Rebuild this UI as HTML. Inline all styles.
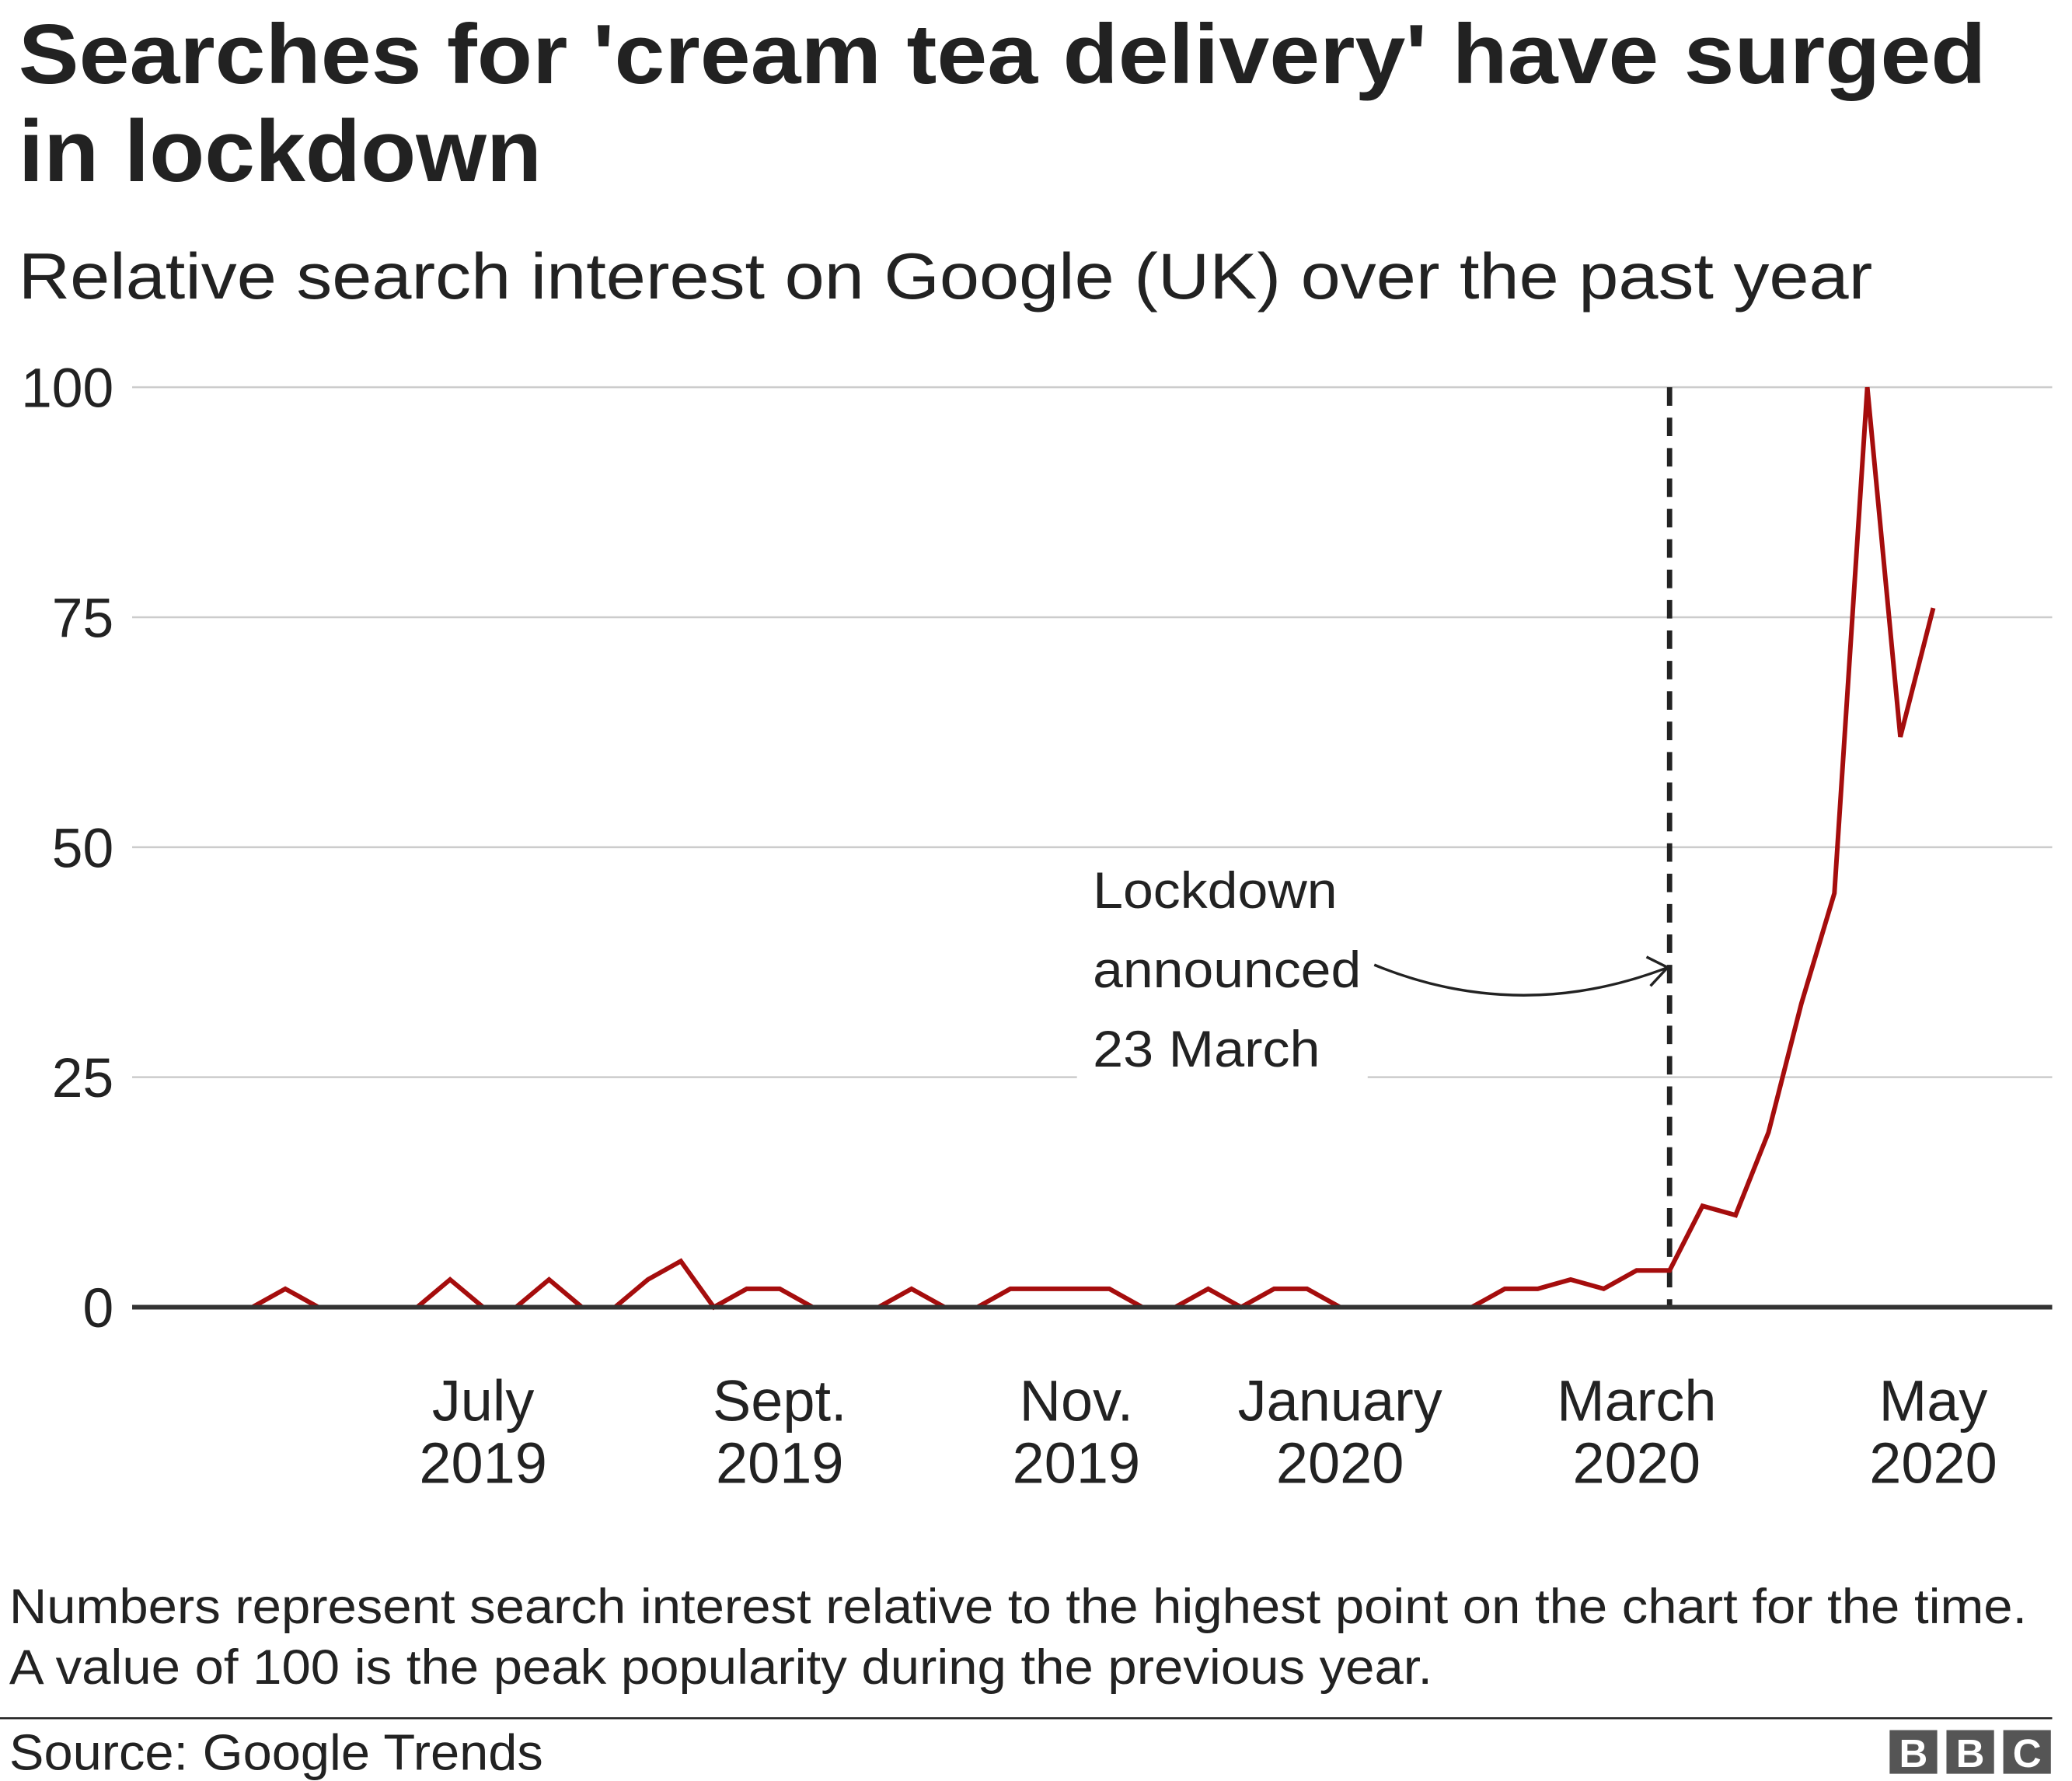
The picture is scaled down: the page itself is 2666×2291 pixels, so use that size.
<!DOCTYPE html>
<html><head><meta charset="utf-8"><style>
html,body{margin:0;padding:0;background:#fff;}
svg{display:block;font-family:"Liberation Sans",Arial,sans-serif;}
</style></head><body>
<svg id="chart" width="2666" height="2291" viewBox="0 0 1568 1347.5" preserveAspectRatio="none" xmlns="http://www.w3.org/2000/svg">
<text x="14" y="63" font-size="64" font-weight="bold" fill="#222" textLength="1489" lengthAdjust="spacingAndGlyphs">Searches for 'cream tea delivery' have surged</text>
<text x="14" y="137" font-size="66" font-weight="bold" fill="#222" textLength="396" lengthAdjust="spacingAndGlyphs">in lockdown</text>
<text x="14" y="226" font-size="49" fill="#222" textLength="1403" lengthAdjust="spacingAndGlyphs">Relative search interest on Google (UK) over the past year</text>
<g id="grid"></g>
<g id="yticks"></g>
<g id="xticks"></g>
<rect x="815" y="650" width="220" height="166" fill="#fff"/>
<line id="lockdown" stroke="#222" stroke-width="4" stroke-dasharray="14,9"/>
<g font-size="39" fill="#222">
<text x="827" y="687" textLength="185" lengthAdjust="spacingAndGlyphs">Lockdown</text>
<text x="827" y="747" textLength="203" lengthAdjust="spacingAndGlyphs">announced</text>
<text x="827" y="807" textLength="172" lengthAdjust="spacingAndGlyphs">23 March</text>
</g>
<path d="M1040,730 Q1150,775 1262,732 M1246,724 L1262,732 L1249,746" fill="none" stroke="#222" stroke-width="2"/>
<path id="series" fill="none" stroke="#a50d0d" stroke-width="3.5" stroke-linejoin="miter"/>
<line id="baseline" x1="100" x2="1553" stroke="#333" stroke-width="3.5"/>
<g font-size="37" fill="#222">
<text x="7" y="1228" textLength="1527" lengthAdjust="spacingAndGlyphs">Numbers represent search interest relative to the highest point on the chart for the time.</text>
<text x="7" y="1274" textLength="1077" lengthAdjust="spacingAndGlyphs">A value of 100 is the peak popularity during the previous year.</text>
</g>
<line x1="0" x2="1553" y1="1300" y2="1300" stroke="#222" stroke-width="1.5"/>
<text x="7" y="1339" font-size="38" fill="#222" textLength="404" lengthAdjust="spacingAndGlyphs">Source: Google Trends</text>
<g font-size="30" font-weight="bold" fill="#fff" text-anchor="middle">
<rect x="1430" y="1309" width="36" height="33" fill="#555"/>
<rect x="1473" y="1309" width="36" height="33" fill="#555"/>
<rect x="1516" y="1309" width="36" height="33" fill="#555"/>
<text x="1448" y="1337">B</text><text x="1491" y="1337">B</text><text x="1534" y="1337">C</text>
</g>
</svg>
<script>
const values = [0,2,0,0,0,0,3,0,0,3,0,0,3,5,0,2,2,0,0,0,2,0,0,2,2,2,2,0,0,2,0,2,2,0,0,0,0,0,2,2,3,2,4,4,11,10,19,33,45,100,62,76];
const yTicks = [0,25,50,75,100];
const xTickIndex = [7,16,25,33,42,51];
const xTickMonth = ["July","Sept.","Nov.","January","March","May"];
const xTickYear = ["2019","2019","2019","2020","2020","2020"];
const lockdownIndex = 43;

const NS="http://www.w3.org/2000/svg";
const x0=191, x1=1463, yTop=293, yBot=989;
const xs = i => x0 + (x1-x0)*i/(values.length-1);
const ys = v => yBot - (yBot-yTop)*v/100;

const grid=document.getElementById('grid'), yt=document.getElementById('yticks'), xt=document.getElementById('xticks');
yTicks.forEach(t=>{
  if(t!==0){
    const l=document.createElementNS(NS,'line');
    
    
    l.setAttribute('x1',100);l.setAttribute('x2',1553);
    l.setAttribute('y1',ys(t));l.setAttribute('y2',ys(t));
    l.setAttribute('stroke','#ccc');l.setAttribute('stroke-width','1.5');
    grid.appendChild(l);
  }
  const tx=document.createElementNS(NS,'text');
  
  
  tx.setAttribute('x',86);tx.setAttribute('y',ys(t)+15);
  tx.setAttribute('text-anchor','end');tx.setAttribute('font-size','42');tx.setAttribute('fill','#222');
  tx.textContent=t;yt.appendChild(tx);
});
xTickIndex.forEach((idx,k)=>{
  [[xTickMonth[k],1075],[xTickYear[k],1122]].forEach(([s,y])=>{
    const tx=document.createElementNS(NS,'text');
    
    
    tx.setAttribute('x',xs(idx));tx.setAttribute('y',y);
    tx.setAttribute('text-anchor','middle');tx.setAttribute('font-size','43.5');tx.setAttribute('fill','#222');
    tx.textContent=s;xt.appendChild(tx);
  });
});
document.getElementById('series').setAttribute('d',values.map((v,i)=>(i?'L':'M')+xs(i).toFixed(1)+','+ys(v).toFixed(1)).join(''));
const ld=document.getElementById('lockdown');
ld.setAttribute('x1',xs(lockdownIndex));ld.setAttribute('x2',xs(lockdownIndex));
ld.setAttribute('y1',ys(100));ld.setAttribute('y2',yBot);
const b=document.getElementById('baseline');b.setAttribute('y1',ys(0));b.setAttribute('y2',ys(0));
</script>
</body></html>
